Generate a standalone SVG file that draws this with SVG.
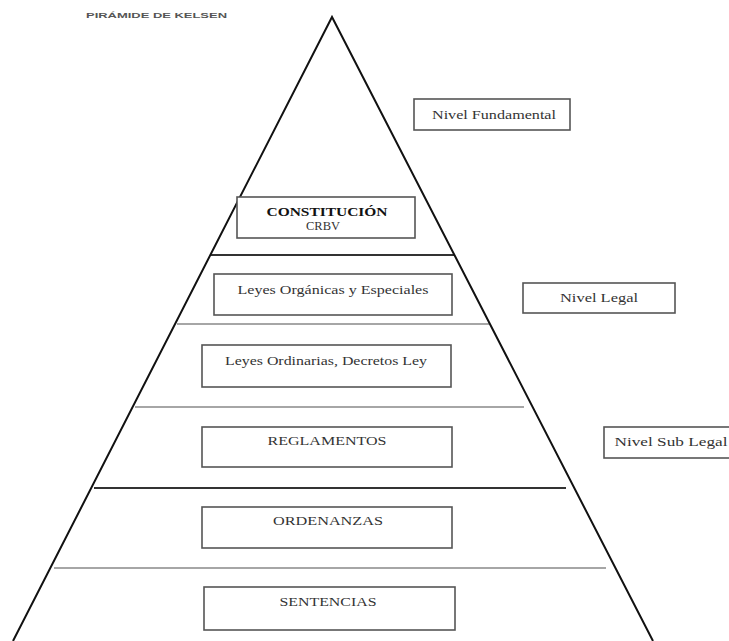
<svg xmlns="http://www.w3.org/2000/svg" width="729" height="641" viewBox="0 0 729 641">
<style>
.box{fill:#fff;stroke:#555;stroke-width:1.6}
.t{font-family:"Liberation Serif",serif;font-size:13px;fill:#333;text-anchor:middle}
.b{font-weight:bold;fill:#111}
.dark{stroke:#333;stroke-width:2.2}
.gray{stroke:#888;stroke-width:1.6}
</style>
<rect width="729" height="641" fill="#fff"/>
<text x="86" y="18" font-family="Liberation Sans,sans-serif" font-size="7.5" font-weight="bold" fill="#555" textLength="141" lengthAdjust="spacingAndGlyphs">PIRÁMIDE DE KELSEN</text>
<g id="connectors">
<line class="dark" x1="210" y1="255" x2="455" y2="255"/>
<line class="gray" x1="177" y1="324" x2="489" y2="324"/>
<line class="gray" x1="135" y1="407" x2="524" y2="407"/>
<line class="dark" x1="94" y1="488" x2="566" y2="488"/>
<line class="gray" x1="54" y1="568" x2="606" y2="568"/>
<polyline points="13,641 332,17 653,641" fill="none" stroke="#111" stroke-width="2"/>
</g>
<g id="constitucion">
<rect class="box" x="237" y="197" width="178" height="41"/>
<text class="t b" x="327" y="216" textLength="121" lengthAdjust="spacingAndGlyphs">CONSTITUCIÓN</text>
<text class="t" x="323" y="230" textLength="34" lengthAdjust="spacingAndGlyphs">CRBV</text>
</g>
<g id="organicas">
<rect class="box" x="214" y="274" width="238" height="41"/>
<text class="t" x="333" y="294" textLength="191" lengthAdjust="spacingAndGlyphs">Leyes Orgánicas y  Especiales</text>
</g>
<g id="ordinarias">
<rect class="box" x="202" y="345" width="249" height="42"/>
<text class="t" x="326" y="365" textLength="202" lengthAdjust="spacingAndGlyphs">Leyes Ordinarias, Decretos Ley</text>
</g>
<g id="reglamentos">
<rect class="box" x="202" y="427" width="250" height="40"/>
<text class="t" x="327" y="445" textLength="119" lengthAdjust="spacingAndGlyphs">REGLAMENTOS</text>
</g>
<g id="ordenanzas">
<rect class="box" x="202" y="507" width="250" height="41"/>
<text class="t" x="328" y="525" textLength="110" lengthAdjust="spacingAndGlyphs">ORDENANZAS</text>
</g>
<g id="sentencias">
<rect class="box" x="204" y="587" width="251" height="43"/>
<text class="t" x="328" y="606" textLength="97" lengthAdjust="spacingAndGlyphs">SENTENCIAS</text>
</g>
<g id="nivel-fundamental">
<rect class="box" x="414" y="99" width="156" height="31"/>
<text class="t" x="494" y="119" textLength="124" lengthAdjust="spacingAndGlyphs">Nivel Fundamental</text>
</g>
<g id="nivel-legal">
<rect class="box" x="523" y="283" width="152" height="30"/>
<text class="t" x="599" y="302" textLength="78" lengthAdjust="spacingAndGlyphs">Nivel Legal</text>
</g>
<g id="nivel-sub-legal">
<rect class="box" x="604" y="427" width="140" height="31"/>
<text class="t" x="671" y="446" textLength="113" lengthAdjust="spacingAndGlyphs">Nivel Sub Legal</text>
</g>
</svg>
